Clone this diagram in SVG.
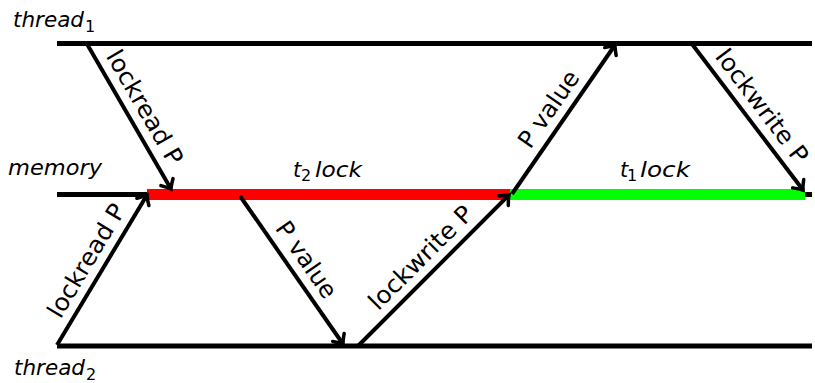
<svg xmlns="http://www.w3.org/2000/svg" width="815" height="383" viewBox="0 0 815 383">
<style>
.tl{stroke:#000;stroke-width:5;fill:none}
.ar{stroke:#000;stroke-width:4;fill:none;marker-end:url(#ah)}
.it{font-family:"DejaVu Sans",sans-serif;font-style:italic;font-size:21px;fill:#000}
.sb{font-family:"DejaVu Sans",sans-serif;font-size:16px;fill:#000}
.lb{font-family:"DejaVu Sans",sans-serif;font-size:24px;fill:#000}
</style>
<defs>
<marker id="ah" markerUnits="userSpaceOnUse" markerWidth="24" markerHeight="24" viewBox="-12 -12 24 24" refX="0" refY="0" orient="auto" overflow="visible">
<path d="M-8,-7 Q-3,-2 0,0 Q-3,2 -8,7" fill="none" stroke="#000" stroke-width="3.5" stroke-linecap="round"/>
</marker>
</defs>
<g id="thread1">
<line class="tl" x1="57" y1="43.5" x2="812" y2="43.5"/>
<text class="it" x="13" y="27" textLength="71" lengthAdjust="spacingAndGlyphs">thread</text>
<text class="sb" x="85" y="31.5">1</text>
</g>
<g id="memory">
<line class="tl" x1="57" y1="194.5" x2="812" y2="194.5"/>
<rect x="147" y="189" width="363" height="11" fill="#ff0000"/>
<rect x="510" y="189" width="295" height="11" fill="#00ff00"/>
<text class="it" x="8" y="175" textLength="94" lengthAdjust="spacingAndGlyphs">memory</text>
<text class="it" x="293" y="177" font-size="23">t</text>
<text class="sb" x="301" y="180.5" font-size="15">2</text>
<text class="it" x="315" y="177" font-size="23" textLength="47" lengthAdjust="spacingAndGlyphs">lock</text>
<text class="it" x="620" y="177" font-size="23">t</text>
<text class="sb" x="627" y="180.5" font-size="15">1</text>
<text class="it" x="640" y="177" font-size="23" textLength="50" lengthAdjust="spacingAndGlyphs">lock</text>
</g>
<g id="thread2">
<line class="tl" x1="57" y1="346" x2="812" y2="346"/>
<text class="it" x="14" y="375" textLength="71" lengthAdjust="spacingAndGlyphs">thread</text>
<text class="sb" x="86" y="379.5">2</text>
</g>
<g id="connectors">
<line class="ar" x1="87" y1="44" x2="171" y2="189"/>
<line class="ar" x1="57" y1="345" x2="147" y2="195"/>
<line class="ar" x1="240" y1="196" x2="343" y2="344"/>
<line class="ar" x1="358" y1="346" x2="509" y2="195"/>
<line class="ar" x1="512" y1="194" x2="615" y2="45"/>
<line class="ar" x1="692" y1="44" x2="803" y2="190"/>
<text class="lb" transform="translate(129,116.5) rotate(59.9)" x="0" y="-10" text-anchor="middle" textLength="128" lengthAdjust="spacingAndGlyphs">lockread P</text>
<text class="lb" transform="translate(102,270) rotate(-59)" x="0" y="-10" text-anchor="middle" textLength="128" lengthAdjust="spacingAndGlyphs">lockread P</text>
<text class="lb" transform="translate(291.5,270) rotate(55.2)" x="0" y="-10" text-anchor="middle" textLength="88" lengthAdjust="spacingAndGlyphs">P value</text>
<text class="lb" transform="translate(433.5,270.5) rotate(-45)" x="0" y="-10" text-anchor="middle" textLength="136" lengthAdjust="spacingAndGlyphs">lockwrite P</text>
<text class="lb" transform="translate(563.5,119.5) rotate(-55.3)" x="0" y="-10" text-anchor="middle" textLength="88" lengthAdjust="spacingAndGlyphs">P value</text>
<text class="lb" transform="translate(747.5,117) rotate(52.8)" x="0" y="-10" text-anchor="middle" textLength="136" lengthAdjust="spacingAndGlyphs">lockwrite P</text>
</g>
</svg>
